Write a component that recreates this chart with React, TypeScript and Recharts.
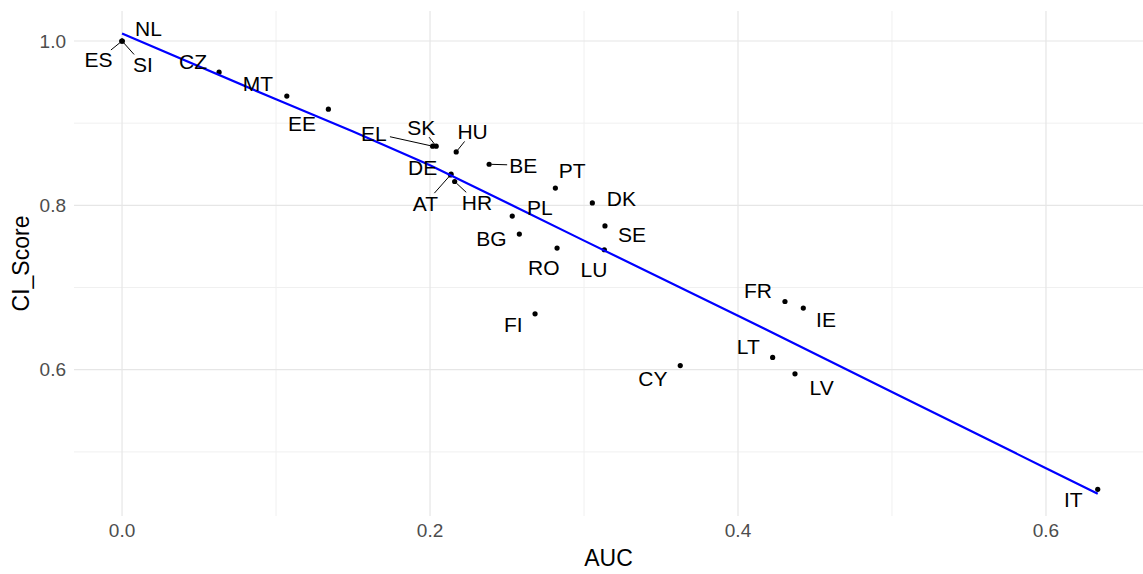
import React from 'react';
import { ScatterChart, Scatter, XAxis, YAxis, ReferenceLine } from 'recharts';

const countries = ['NL', 'ES', 'SI', 'CZ', 'MT', 'EE', 'EL', 'SK', 'HU', 'BE', 'DE', 'AT', 'HR', 'PT',
  'DK', 'PL', 'SE', 'BG', 'RO', 'LU', 'FI', 'FR', 'IE', 'LT', 'CY', 'LV', 'IT'];
const aucValues = [0, 0, 0, 0.063, 0.107, 0.134, 0.2017, 0.204, 0.217, 0.2384, 0.2137, 0.2133, 0.216, 0.2814,
  0.3054, 0.2534, 0.3136, 0.258, 0.2825, 0.3132, 0.2682, 0.4305, 0.4424, 0.4225, 0.3625, 0.437, 0.6336];
const ciValues = [1.0, 1.0, 1.0, 0.962, 0.933, 0.917, 0.872, 0.872, 0.865, 0.85, 0.838, 0.837, 0.829, 0.821,
  0.803, 0.787, 0.775, 0.765, 0.748, 0.746, 0.668, 0.683, 0.675, 0.615, 0.605, 0.595, 0.4545];

// smoother (blue curve), positions
const fitAuc = [0, 0.1, 0.15, 0.2, 0.25, 0.3, 0.4, 0.5, 0.6, 0.6336];
const fitCi = [1.009, 0.929, 0.8899, 0.8489, 0.8031, 0.7571, 0.6658, 0.5728, 0.4802, 0.449];

const xTicks = [0, 0.2, 0.4, 0.6];
const xMinor = [0.1, 0.3, 0.5];
const yTicks = [0.6, 0.8, 1.0];
const yMinor = [0.5, 0.7, 0.9];

const FONT = 'Liberation Sans, Arial, Helvetica, sans-serif';
const LABEL_SIZE = 21;

// repel-style label placement: pixel offset of label centre from its point, and whether a segment is drawn
const labelPos: Record<string, [number, number, boolean]> = {
  NL: [26.5, -12, false],
  ES: [-23.5, 19, true],
  SI: [21, 23.5, true],
  CZ: [-26, -11, false],
  MT: [-29, -12.5, false],
  EE: [-26.5, 14, false],
  EL: [-58.7, -13, true],
  SK: [-15, -19, true],
  HU: [16.4, -20.5, true],
  BE: [34, 1, true],
  DE: [-28.5, -6.8, false],
  AT: [-25, 28.2, true],
  HR: [22.3, 20.8, true],
  PT: [16.7, -17.8, false],
  DK: [29, -4, false],
  PL: [27.7, -8.3, false],
  SE: [27, 8.3, false],
  BG: [-28, 4.7, false],
  RO: [-13.2, 19.8, false],
  LU: [-10.3, 19.5, false],
  FI: [-21.7, 10.7, false],
  FR: [-27, -11.2, false],
  IE: [22.7, 11.4, false],
  LT: [-24.4, -10.3, false],
  CY: [-27.3, 13.3, false],
  LV: [26.7, 13.4, false],
  IT: [-24.4, 10, false],
};

const points = countries.map((c, i) => ({ country: c, auc: aucValues[i], ci: ciValues[i] }));
const fitData = fitAuc.map((a, i) => ({ auc: a, ci: fitCi[i] }));

const Dot = (props: any) => {
  const { cx, cy } = props;
  if (cx == null || cy == null) return <g />;
  return <circle cx={cx} cy={cy} r={2.6} fill="#000" />;
};

const NoShape = () => <g />;

const CountryLabel = (props: any) => {
  const { cx, cy, payload } = props;
  if (cx == null || cy == null) return <g />;
  const pos = labelPos[payload.country] || [0, -15, false];
  const lx = cx + pos[0];
  const ly = cy + pos[1];
  let seg = null;
  if (pos[2]) {
    const hw = payload.country.length * 7 + 2;
    const hh = 10;
    const dx = cx - lx;
    const dy = cy - ly;
    const t = Math.min(dx !== 0 ? hw / Math.abs(dx) : 99, dy !== 0 ? hh / Math.abs(dy) : 99);
    const len = Math.sqrt(dx * dx + dy * dy);
    if (t < 1) {
      const ex = lx + dx * t;
      const ey = ly + dy * t;
      const sx = cx - (dx / len) * 2.5;
      const sy = cy - (dy / len) * 2.5;
      seg = <line x1={ex} y1={ey} x2={sx} y2={sy} stroke="#000" strokeWidth={1} />;
    }
  }
  return (
    <g>
      {seg}
      <text x={lx} y={ly + LABEL_SIZE * 0.35} textAnchor="middle" fontSize={LABEL_SIZE}
        fontFamily={FONT} fill="#000">
        {payload.country}
      </text>
    </g>
  );
};

const XTitle = (props: any) => {
  const vb = props.viewBox || { x: 74, y: 516, width: 1069, height: 58 };
  return (
    <text x={vb.x + vb.width / 2} y={vb.y + 50} textAnchor="middle" fontSize={23}
      fontFamily={FONT} fill="#000">AUC</text>
  );
};

const YTitle = (props: any) => {
  const vb = props.viewBox || { x: 0, y: 11, width: 74, height: 505 };
  const cx = 21;
  const cy = vb.y + vb.height / 2;
  return (
    <text x={cx} y={cy} transform={`rotate(-90 ${cx} ${cy})`} textAnchor="middle"
      dominantBaseline="central" fontSize={23} fontFamily={FONT} fill="#000">CI_Score</text>
  );
};

const tickStyle = { fill: '#4d4d4d', fontSize: 19, fontFamily: FONT };

const App = () => {
  return (
    <div style={{ position: 'absolute', left: 0, top: 0, width: 1143, height: 574, background: '#fff' }}>
      <ScatterChart width={1143} height={574} margin={{ top: 11, right: 0, bottom: 0, left: 0 }}>
        {xMinor.map((v) => (
          <ReferenceLine key={'xm' + v} x={v} stroke="#f0f0f0" strokeWidth={1} />
        ))}
        {yMinor.map((v) => (
          <ReferenceLine key={'ym' + v} y={v} stroke="#f0f0f0" strokeWidth={1} />
        ))}
        {xTicks.map((v) => (
          <ReferenceLine key={'x' + v} x={v} stroke="#e6e6e6" strokeWidth={1.2} />
        ))}
        {yTicks.map((v) => (
          <ReferenceLine key={'y' + v} y={v} stroke="#e6e6e6" strokeWidth={1.2} />
        ))}
        <XAxis
          type="number"
          dataKey="auc"
          domain={[-0.0312, 0.663]}
          allowDataOverflow
          ticks={xTicks}
          interval={0}
          tickFormatter={(v: number) => v.toFixed(1)}
          axisLine={false}
          tickLine={false}
          tick={tickStyle}
          height={58}
          label={<XTitle />}
        />
        <YAxis
          type="number"
          dataKey="ci"
          domain={[0.422, 1.0365]}
          allowDataOverflow
          ticks={yTicks}
          interval={0}
          tickFormatter={(v: number) => v.toFixed(1)}
          axisLine={false}
          tickLine={false}
          tick={tickStyle}
          width={74}
          label={<YTitle />}
        />
        <Scatter data={points} shape={<Dot />} isAnimationActive={false} />
        <Scatter data={fitData} line={{ stroke: '#0000ff', strokeWidth: 2.2 }} shape={<NoShape />}
          isAnimationActive={false} />
        <Scatter data={points} shape={<CountryLabel />} isAnimationActive={false} />
      </ScatterChart>
    </div>
  );
};

export default App;
